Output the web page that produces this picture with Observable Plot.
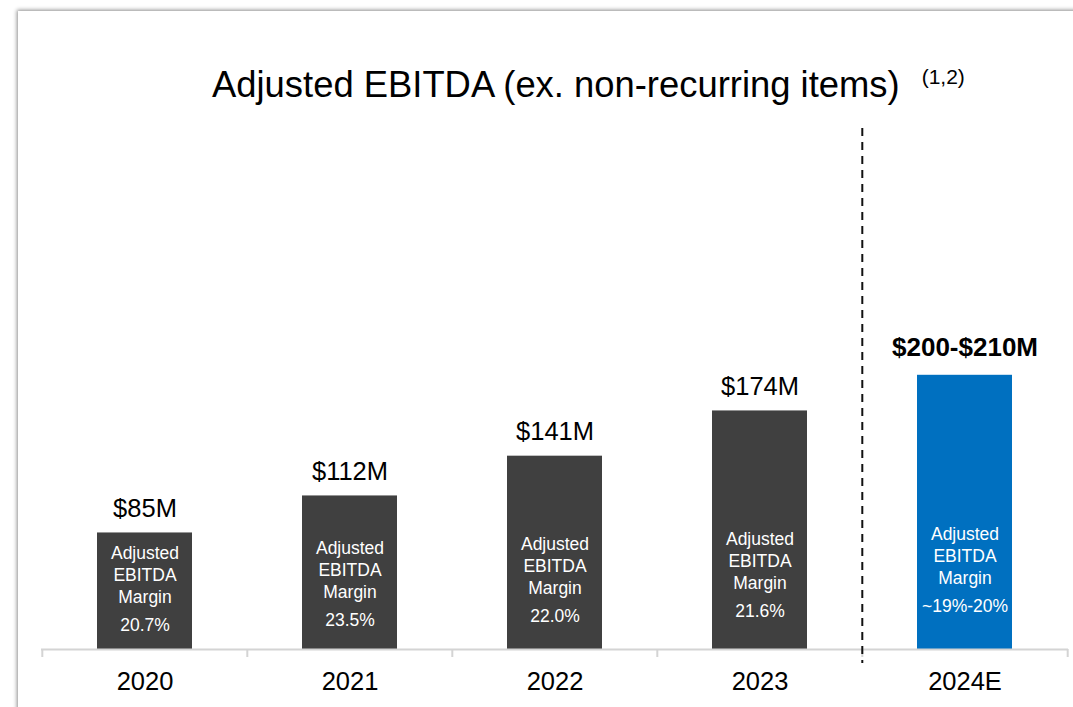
<!DOCTYPE html>
<html><head><meta charset="utf-8">
<script src="https://cdn.jsdelivr.net/npm/d3@7"></script>
<script src="https://cdn.jsdelivr.net/npm/@observablehq/plot@0.6"></script>
<style>
html,body{margin:0;padding:0;background:#fff;overflow:hidden;}
#page{position:relative;width:1073px;height:707px;overflow:hidden;font-family:"Liberation Sans",Arial,sans-serif;}
#frame{position:absolute;left:18px;top:11px;width:1200px;height:900px;background:#fff;box-shadow:0 0 4px 1px rgba(0,0,0,0.45);z-index:0;}
#title{position:relative;z-index:1;width:1073px;height:110px;}
#title .main{position:absolute;left:212px;top:67px;font-size:36.4px;line-height:36px;white-space:nowrap;color:#000;}
#title .sup{font-size:21px;position:relative;top:-13px;margin-left:22px;}
#chart{position:relative;z-index:1;}
#chart svg{display:block;}
</style></head>
<body>
<div id="page">
  <div id="frame"></div>
  <div id="title"><span class="main">Adjusted EBITDA (ex. non-recurring items)<span class="sup">(1,2)</span></span></div>
  <div id="chart"></div>
</div>
<script>
const years = ["2020", "2021", "2022", "2023", "2024E"];
const values = [85, 112, 141, 174, 200];
const valueLabels = ["$85M", "$112M", "$141M", "$174M", "$200-$210M"];
const marginLabels = ["20.7%", "23.5%", "22.0%", "21.6%", "~19%-20%"];
const kinds = ["actual", "actual", "actual", "actual", "estimate"];
const marginCaption = "Adjusted\nEBITDA\nMargin";

const data = years.map((year, i) => ({year, value: values[i], label: valueLabels[i], margin: marginLabels[i], kind: kinds[i]}));
const actual = data.filter(d => d.kind === "actual");
const estimate = data.filter(d => d.kind === "estimate");

const W = 1073, H = 597, mL = 41, mR = 5, mT = 18, mB = 58;
const bw = (W - mL - mR) / years.length;
const textY = d => d.value * 0.115 + 4;
const font = "Liberation Sans, Arial, sans-serif";

const chart = Plot.plot({
  width: W, height: H,
  marginLeft: mL, marginRight: mR, marginTop: mT, marginBottom: mB,
  style: {fontFamily: font, color: "#000", background: "transparent", overflow: "visible"},
  x: {domain: years, padding: 0, axis: null},
  y: {domain: [0, 380], axis: null},
  marks: [
    Plot.barY(data, {x: "year", y: "value", fill: d => d.kind === "estimate" ? "#0070C0" : "#404040", insetLeft: 55, insetRight: 55}),
    Plot.ruleY([0], {stroke: "#d4d4d4", strokeWidth: 2}),
    Plot.ruleX(years, {x: d => d, dx: -bw / 2, y1: 0, y2: 0, insetBottom: -8, stroke: "#d4d4d4", strokeWidth: 2}),
    Plot.ruleX([years[years.length - 1]], {x: d => d, dx: bw / 2, y1: 0, y2: 0, insetBottom: -8, stroke: "#d4d4d4", strokeWidth: 2}),
    Plot.ruleX([years[years.length - 1]], {x: d => d, dx: -bw / 2, insetBottom: -14, stroke: "#111", strokeWidth: 2, strokeDasharray: "8,6"}),
    Plot.text(actual, {x: "year", y: "value", text: "label", lineAnchor: "bottom", dy: -16, fontSize: 25.5, fill: "#000"}),
    Plot.text(estimate, {x: "year", y: "value", text: "label", lineAnchor: "bottom", dy: -19, fontSize: 26, fontWeight: "bold", fill: "#000"}),
    Plot.text(data, {x: "year", y: textY, text: () => marginCaption, lineAnchor: "bottom", dy: -28, lineHeight: 22 / 17.5, fontSize: 17.5, fill: "#fff"}),
    Plot.text(data, {x: "year", y: textY, text: "margin", lineAnchor: "bottom", fontSize: 17.5, fill: "#fff"}),
    Plot.axisX({domain: years, tickSize: 0, tickPadding: 22, fontSize: 25.5, fill: "#000", label: null})
  ]
});
document.getElementById("chart").appendChild(chart);
</script>
</body></html>
